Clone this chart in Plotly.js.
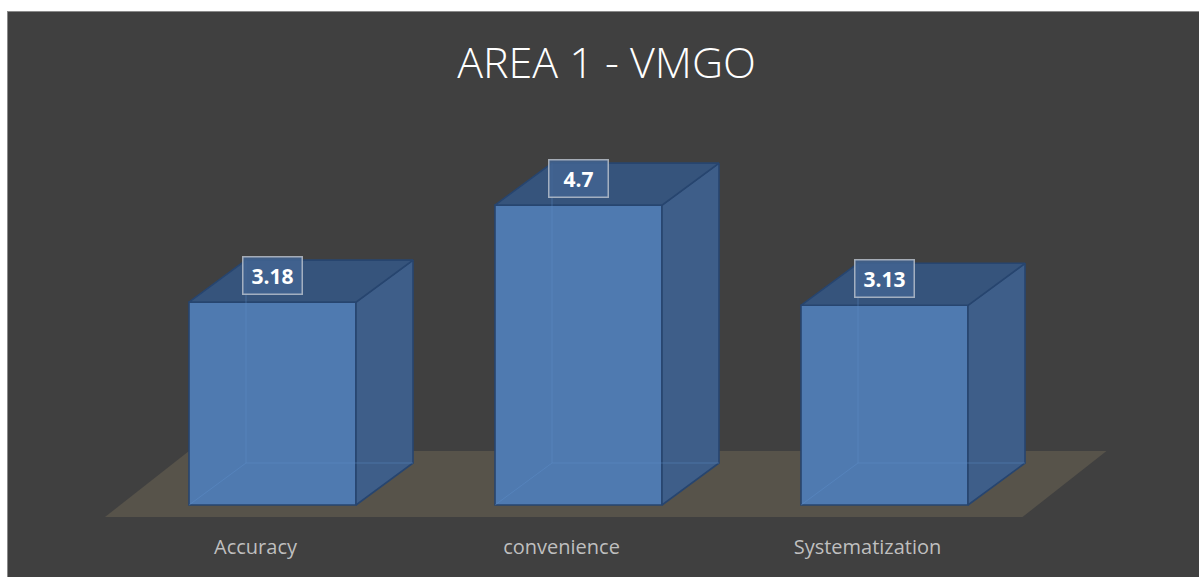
<!DOCTYPE html>
<html>
<head>
<meta charset="utf-8">
<script src="https://cdn.plot.ly/plotly-3.0.1.min.js"></script>
<style>
  html, body { margin: 0; padding: 0; background: #ffffff; overflow: hidden; }
  #frame {
    position: absolute; left: 7px; top: 11px;
    width: 1192px; height: 566px;
    border-left: 1px solid #8a8a8a; border-top: 1px solid #8a8a8a;
    background: #404040;
  }
  #chart { position: absolute; left: 0; top: 0; width: 1191px; height: 565px; }
</style>
</head>
<body>
<div id="frame"><div id="chart"></div></div>
<script>
// Scores per area
const categories = ['Accuracy', 'convenience', 'Systematization'];
const scores = [3.18, 4.7, 3.13];
const valueLabels = ['3.18', '4.7', '3.13'];

// Pixel geometry of the 3-D column look
const W = 1191, H = 565;
const PX_PER_X = 306;        // distance between column centres
const PX_PER_Y = 63.8;       // pixels per score unit
const FIRST_CENTER_PX = 264.5;
const BASE_PX = 493;         // y pixel of score 0
const FLOOR_FRONT_PX = 505;  // y pixel of the floor's front edge
const BAR_W = 167 / PX_PER_X;
const DX = 57 / PX_PER_X;    // column depth, horizontal
const DY = 42 / PX_PER_Y;    // column depth, vertical
const FLOOR_DX = 84 / PX_PER_X;
const FLOOR_DY = 66 / PX_PER_Y;
const FLOOR_LEFT = -167.5 / PX_PER_X;
const FLOOR_RIGHT = 138 / PX_PER_X;
const LABEL_SHIFT = -17 / PX_PER_X;

const xRange = [-FIRST_CENTER_PX / PX_PER_X, (W - FIRST_CENTER_PX) / PX_PER_X];
const yRange = [-(FLOOR_FRONT_PX - BASE_PX) / PX_PER_Y, BASE_PX / PX_PER_Y];

const FRONT = '#4f7ab0';
const SIDE = '#3e5e89';
const TOP = '#36547c';
const EDGE = '#27456f';

const xs = categories.map((_, i) => i);
const traces = [];

// Side and top faces
xs.forEach((i, k) => {
  const v = scores[k];
  const l = i - BAR_W / 2, r = i + BAR_W / 2;
  traces.push({
    type: 'scatter', mode: 'lines', fill: 'toself', fillcolor: SIDE,
    x: [r, r + DX, r + DX, r, r], y: [0, DY, v + DY, v, 0],
    line: { color: EDGE, width: 1.6 }, hoverinfo: 'skip', showlegend: false
  });
  traces.push({
    type: 'scatter', mode: 'lines', fill: 'toself', fillcolor: TOP,
    x: [l, r, r + DX, l + DX, l], y: [v, v, v + DY, v + DY, v],
    line: { color: EDGE, width: 1.6 }, hoverinfo: 'skip', showlegend: false
  });
});

// Front faces
traces.push({
  type: 'bar', x: xs, y: scores, width: BAR_W,
  marker: { color: FRONT, line: { color: EDGE, width: 1.6 } },
  hoverinfo: 'skip', showlegend: false
});

// Back edges seen through the front faces
xs.forEach((i, k) => {
  const v = scores[k];
  const l = i - BAR_W / 2, r = i + BAR_W / 2;
  traces.push({
    type: 'scatter', mode: 'lines',
    x: [l, l + DX, r + DX, null, l + DX, l + DX],
    y: [0, DY, DY, null, DY, v + DY],
    line: { color: 'rgba(95,145,205,0.4)', width: 1 },
    hoverinfo: 'skip', showlegend: false
  });
});

// Floor under the columns
const n = categories.length;
const fy0 = yRange[0], fy1 = yRange[0] + FLOOR_DY;
const fxl = FLOOR_LEFT, fxr = (n - 1) + FLOOR_RIGHT;
const floorPath = `M${fxl},${fy0} L${fxr},${fy0} L${fxr + FLOOR_DX},${fy1} L${fxl + FLOOR_DX},${fy1} Z`;

// Value boxes
const annotations = xs.map((i, k) => ({
  x: i, y: scores[k] + 0.425, xref: 'x', yref: 'y',
  text: '<b>' + valueLabels[k] + '</b>', showarrow: false,
  font: { family: 'Open Sans, sans-serif', size: 21, color: '#ffffff' },
  bgcolor: 'rgba(66,100,146,0.85)', bordercolor: 'rgba(190,198,208,0.8)',
  borderwidth: 1.5, borderpad: 5, width: 48, height: 26
}));

const layout = {
  width: W, height: H,
  margin: { l: 0, r: 0, t: 0, b: H - FLOOR_FRONT_PX, pad: 0 },
  paper_bgcolor: '#404040', plot_bgcolor: 'rgba(0,0,0,0)',
  title: {
    text: 'AREA 1 - VMGO',
    font: { family: 'Open Sans, sans-serif', size: 43, color: '#ffffff', weight: 300 },
    x: 598.5 / W, xref: 'container', xanchor: 'center',
    y: 1 - 50.5 / H, yref: 'container', yanchor: 'middle'
  },
  xaxis: {
    range: xRange, fixedrange: true,
    tickvals: xs.map(i => i + LABEL_SHIFT), ticktext: categories,
    tickfont: { family: 'Open Sans, sans-serif', size: 20, color: '#bfbfbf' },
    ticks: '', ticklabelstandoff: 16,
    showgrid: false, zeroline: false, showline: false
  },
  yaxis: { range: yRange, visible: false, fixedrange: true, showgrid: false, zeroline: false },
  shapes: [{
    type: 'path', path: floorPath, xref: 'x', yref: 'y', layer: 'below',
    fillcolor: '#57534a', line: { width: 0 }
  }],
  annotations: annotations,
  hovermode: false, showlegend: false
};

Plotly.newPlot('chart', traces, layout, { staticPlot: true, displayModeBar: false });
</script>
</body>
</html>
